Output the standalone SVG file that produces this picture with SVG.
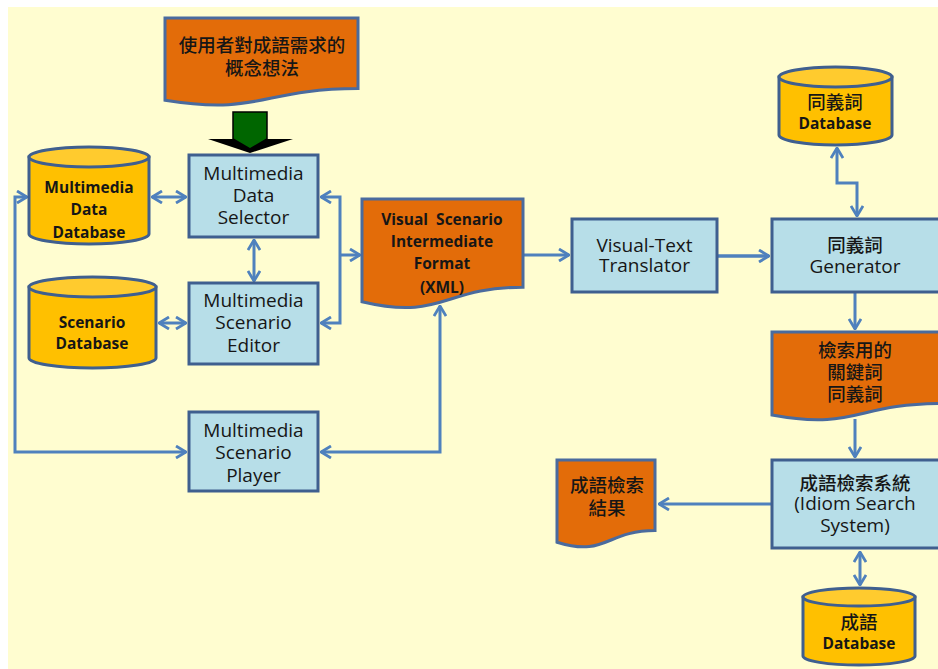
<svg xmlns="http://www.w3.org/2000/svg" width="938" height="669" viewBox="0 0 938 669">
  <style>
    .box { fill: #B7DEE8; stroke: #3F5F8F; stroke-width: 3; }
    .doc { fill: #E36C09; stroke: #4A6B9E; stroke-width: 3; }
    .cyl { fill: #FFC000; stroke: #3F5F8F; stroke-width: 3; }
    .cyltop { fill: #FFCB2E; stroke: #3F5F8F; stroke-width: 3; }
    .conn { fill: none; stroke: #4F81BD; stroke-width: 3; }
    text { font-family: "Open Sans", "Noto Sans CJK TC", sans-serif; fill: #161616; text-anchor: middle; }
    .t { font-size: 19px; }
    .b { font-size: 15.5px; font-weight: bold; }
    .c { font-size: 18.5px; font-weight: 500; }
  </style>
  <defs>
    <marker id="ah" viewBox="0 0 12 14" refX="11" refY="7" markerWidth="12" markerHeight="14" orient="auto-start-reverse" markerUnits="userSpaceOnUse">
      <path d="M1,1 L11,7 L1,13" fill="none" stroke="#4F81BD" stroke-width="2.8"/>
    </marker>
  </defs>

  <!-- canvas -->
  <rect x="0" y="0" width="938" height="669" fill="#FFFFFF"/>
  <rect x="8" y="7" width="930" height="662" fill="#FFFDD0"/>

  <!-- connectors -->
  <g id="connectors">
    <path class="conn" d="M152,197 H186" marker-start="url(#ah)" marker-end="url(#ah)"/>
    <path class="conn" d="M254,240 V281" marker-start="url(#ah)" marker-end="url(#ah)"/>
    <path class="conn" d="M159,323 H186" marker-start="url(#ah)" marker-end="url(#ah)"/>
    <path class="conn" d="M321,197 H340 V323 H321" marker-start="url(#ah)" marker-end="url(#ah)"/>
    <path class="conn" d="M340,255 H360" marker-end="url(#ah)"/>
    <path class="conn" d="M27,197 H15 V452 H186" marker-start="url(#ah)" marker-end="url(#ah)"/>
    <path class="conn" d="M440,306 V452 H321" marker-start="url(#ah)" marker-end="url(#ah)"/>
    <path class="conn" d="M523,255 H569" marker-end="url(#ah)"/>
    <path class="conn" d="M718,256 H769" style="stroke-width:3.5" marker-end="url(#ah)"/>
    <path class="conn" d="M837,148 V183 H857 V216" marker-start="url(#ah)" marker-end="url(#ah)"/>
    <path class="conn" d="M855,293 V329" marker-end="url(#ah)"/>
    <path class="conn" d="M855,419 V457" marker-end="url(#ah)"/>
    <path class="conn" d="M771,504 H659" marker-end="url(#ah)"/>
    <path class="conn" d="M860,552 V585" marker-start="url(#ah)" marker-end="url(#ah)"/>
  </g>

  <!-- user concept document and input arrow -->
  <g id="concept">
    <path class="doc" d="M165,18 H358 V88.6 C261.5,88.6 261.5,115.6 165,100.2 Z"/>
    <text class="c" x="262" y="52">使用者對成語需求的</text>
    <text class="c" x="262" y="75">概念想法</text>
  </g>
  <g id="input-arrow">
    <polygon points="208,139 293,139 250,153" fill="#000000"/>
    <polygon points="233,112 267,112 267,139 250,149 233,139" fill="#006600" stroke="#000000" stroke-width="1.5"/>
  </g>

  <!-- databases -->
  <g id="mm-data-db">
    <path class="cyl" d="M29,157 V234 A60,10 0 0 0 149,234 V157 Z"/>
    <ellipse class="cyltop" cx="89" cy="157" rx="60" ry="10"/>
    <text class="b" x="89" y="193">Multimedia</text>
    <text class="b" x="89" y="215">Data</text>
    <text class="b" x="89" y="238">Database</text>
  </g>
  <g id="scenario-db">
    <path class="cyl" d="M29,287 V358 A63.5,10 0 0 0 156,358 V287 Z"/>
    <ellipse class="cyltop" cx="92.5" cy="287" rx="63.5" ry="10"/>
    <text class="b" x="92" y="327.5">Scenario</text>
    <text class="b" x="92" y="348.5">Database</text>
  </g>
  <g id="synonym-db">
    <path class="cyl" d="M779,77 V135 A56.5,10 0 0 0 892,135 V77 Z"/>
    <ellipse class="cyltop" cx="835.5" cy="77" rx="56.5" ry="10"/>
    <text class="c" x="835" y="109">同義詞</text>
    <text class="b" x="835" y="128.5">Database</text>
  </g>
  <g id="idiom-db">
    <path class="cyl" d="M803,597 V656 A56,9 0 0 0 915,656 V597 Z"/>
    <ellipse class="cyltop" cx="859" cy="597" rx="56" ry="9"/>
    <text class="c" x="859" y="629">成語</text>
    <text class="b" x="859" y="648.5">Database</text>
  </g>

  <!-- process boxes -->
  <g id="data-selector">
    <rect class="box" x="189" y="155" width="129" height="82"/>
    <text class="t" x="253.5" y="180">Multimedia</text>
    <text class="t" x="253.5" y="202">Data</text>
    <text class="t" x="253.5" y="224">Selector</text>
  </g>
  <g id="scenario-editor">
    <rect class="box" x="189" y="283" width="129" height="81"/>
    <text class="t" x="253.5" y="307">Multimedia</text>
    <text class="t" x="253.5" y="329">Scenario</text>
    <text class="t" x="253.5" y="352">Editor</text>
  </g>
  <g id="scenario-player">
    <rect class="box" x="189" y="412" width="129" height="79"/>
    <text class="t" x="253.5" y="437">Multimedia</text>
    <text class="t" x="253.5" y="459">Scenario</text>
    <text class="t" x="253.5" y="482">Player</text>
  </g>
  <g id="intermediate-format">
    <path class="doc" d="M362,199 H523 V287.2 C442.5,287.2 442.5,320.8 362,301.7 Z"/>
    <text class="b" x="442" y="224.5" word-spacing="4">Visual Scenario</text>
    <text class="b" x="442" y="246.5">Intermediate</text>
    <text class="b" x="442" y="268.5">Format</text>
    <text class="b" x="442" y="292.5">(XML)</text>
  </g>
  <g id="translator">
    <rect class="box" x="572" y="219" width="145" height="73"/>
    <text class="t" x="644.5" y="252">Visual-Text</text>
    <text class="t" x="644.5" y="272">Translator</text>
  </g>
  <g id="synonym-generator">
    <rect class="box" x="772" y="219" width="170" height="73"/>
    <text class="c" x="855" y="252">同義詞</text>
    <text class="t" x="855" y="273">Generator</text>
  </g>
  <g id="keyword-synonyms">
    <path class="doc" d="M772,332 H942 V403.4 C856,403.4 856,430.5 772,415.1 Z"/>
    <text class="c" x="855" y="357">檢索用的</text>
    <text class="c" x="855" y="379">關鍵詞</text>
    <text class="c" x="855" y="401">同義詞</text>
  </g>
  <g id="idiom-search">
    <rect class="box" x="772" y="460" width="170" height="88"/>
    <text class="c" x="855" y="490">成語檢索系統</text>
    <text class="t" x="855" y="510">(Idiom Search</text>
    <text class="t" x="855" y="532">System)</text>
  </g>
  <g id="search-result">
    <path class="doc" d="M557,460 H655 V530.6 C606,530.6 606,557.4 557,542.2 Z"/>
    <text class="c" x="607" y="492">成語檢索</text>
    <text class="c" x="607" y="515">結果</text>
  </g>
</svg>
